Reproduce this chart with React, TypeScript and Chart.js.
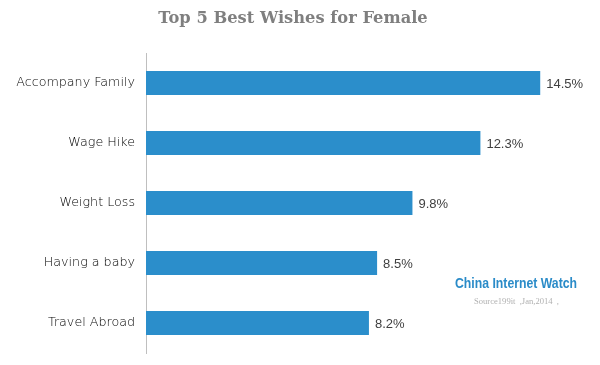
import React, { useEffect, useRef } from "react";
import { Chart, registerables } from "chart.js";

Chart.register(...registerables);

const categories = ["Accompany Family", "Wage Hike", "Weight Loss", "Having a baby", "Travel Abroad"];
const values = [14.5, 12.3, 9.8, 8.5, 8.2];
const titleText = "Top 5 Best Wishes for Female";
const brandText = "China Internet Watch";
const sourceText = "Source199it  ,Jan,2014  ,";

const overlayPlugin = {
  id: "overlay",
  afterDatasetsDraw(chart: any) {
    const ctx = chart.ctx;
    ctx.save();
    const meta = chart.getDatasetMeta(0);
    ctx.font = "13px 'Liberation Sans'";
    ctx.fillStyle = "#404040";
    ctx.textAlign = "left";
    ctx.textBaseline = "middle";
    meta.data.forEach((bar: any, i: number) => {
      ctx.fillText(values[i].toFixed(1) + "%", bar.x + 6, bar.y + 1);
    });
    ctx.font = "bold 16.3px 'DejaVu Serif'";
    ctx.fillStyle = "#7f7f7f";
    ctx.textAlign = "center";
    ctx.fillText(titleText, 293, 19);
    ctx.font = "bold 15px 'Liberation Sans'";
    ctx.fillStyle = "#2a8bc8";
    ctx.textAlign = "left";
    ctx.fillText(brandText, 455, 284, 122);
    ctx.font = "9px 'Liberation Serif'";
    ctx.fillStyle = "#b0b0b0";
    ctx.fillText(sourceText, 474, 302, 85);
    ctx.restore();
  },
};

export default function App() {
  const ref = useRef<HTMLCanvasElement>(null);
  useEffect(() => {
    if (!ref.current) return;
    const chart = new Chart(ref.current, {
      type: "bar",
      data: {
        labels: categories,
        datasets: [
          {
            data: values,
            backgroundColor: "#2b8ecb",
            borderWidth: 0,
            barPercentage: 0.8,
            categoryPercentage: 0.5,
          },
        ],
      },
      options: {
        indexAxis: "y",
        animation: false,
        responsive: true,
        maintainAspectRatio: false,
        layout: { padding: { left: 0, right: 19, top: 53, bottom: 12 } },
        plugins: { legend: { display: false }, tooltip: { enabled: false }, title: { display: false } },
        scales: {
          x: { display: false, min: 0, max: 16 },
          y: {
            afterFit: (scale: any) => {
              scale.width = 146;
              scale.paddingTop = 0;
              scale.paddingBottom = 0;
            },
            grid: { display: false, drawTicks: false },
            border: { display: true, color: "#bfbfbf", width: 1 },
            ticks: {
              padding: 11,
              color: "#000000",
              font: { family: "'DejaVu Sans'", size: 12.7, weight: "200" },
            },
          },
        },
      },
      plugins: [overlayPlugin],
    });
    return () => chart.destroy();
  }, []);
  return (
    <div style={{ position: "absolute", left: 0, top: 0, width: 600, height: 365, background: "#fff" }}>
      <canvas ref={ref} />
    </div>
  );
}
